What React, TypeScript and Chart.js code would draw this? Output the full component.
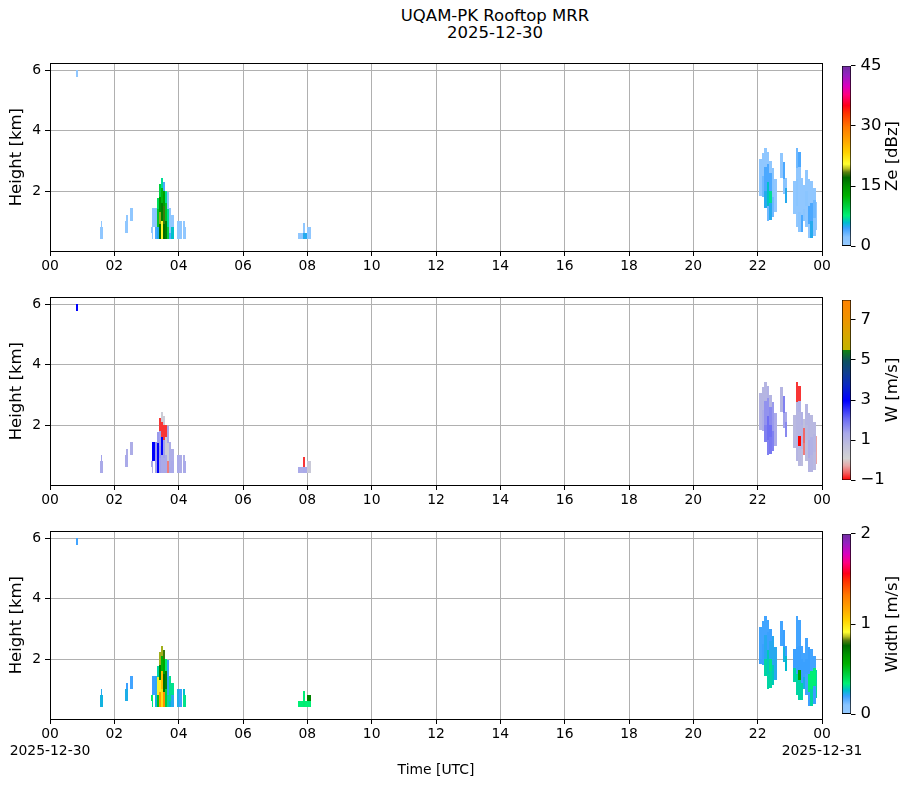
import { useEffect, useRef } from 'react';
import { Chart, registerables } from 'chart.js';

Chart.register(...registerables);

const FONT = '"DejaVu Sans", "Liberation Sans", sans-serif';

// ---------- axes ----------
const timeRange = [0, 24];
const hourTicks = [0, 2, 4, 6, 8, 10, 12, 14, 16, 18, 20, 22, 24];
const hourLabels = ['00', '02', '04', '06', '08', '10', '12', '14', '16', '18', '20', '22', '00'];
const startDateLabel = '2025-12-30';
const endDateLabel = '2025-12-31';
const heightRange = [0.01, 6.24];
const heightTicks = [2, 4, 6];

const zeRange = [0, 45];
const zeTicks = [0, 15, 30, 45];
const wRange = [-1, 8];
const wTicks = [-1, 1, 3, 5, 7];
const widthRange = [0, 2];
const widthTicks = [0, 1, 2];

// ---------- data ----------
// cell: [time start (h UTC), time end (h UTC), height bottom (km), height top (km), Ze (dBZ), W (m/s), Width (m/s)]
type Cell = [number, number, number, number, number, number, number];

const echoesEarly: Cell[] = [
  [0.80, 0.86, 5.80, 6.03, 1, 3.0, 0.19],
  [1.56, 1.65, 0.40, 0.82, 1, 1.3, 0.24],
  [1.58, 1.63, 0.82, 1.00, 1, 1.4, 0.22],
  [2.33, 2.43, 0.60, 1.00, 1, 1.3, 0.23],
  [2.37, 2.43, 1.00, 1.20, 1, 1.2, 0.20],
  [2.49, 2.58, 1.00, 1.44, 1, 1.2, 0.19],
];

const echoes0330: Cell[] = [
  [3.14, 3.21, 0.60, 0.82, 1, 1.3, 0.35],
  [3.17, 3.21, 0.40, 0.60, 1, 1.2, 0.32],
  [3.17, 3.25, 0.82, 1.44, 1.5, 3.0, 0.20],
  [3.25, 3.33, 0.41, 0.80, 4, 1.4, 0.24],
  [3.25, 3.33, 0.80, 1.45, 2, 1.5, 0.21],
  [3.33, 3.39, 0.41, 0.80, 5, 3.0, 0.50],
  [3.33, 3.39, 0.80, 1.40, 11, 3.0, 0.90],
  [3.33, 3.39, 1.40, 1.78, 9, 1.5, 0.30],
  [3.39, 3.45, 0.41, 0.90, 17, 1.4, 1.20],
  [3.39, 3.45, 0.90, 1.30, 19, 1.5, 0.95],
  [3.39, 3.45, 1.30, 1.80, 15, 1.4, 0.70],
  [3.39, 3.45, 1.80, 2.22, 10, -0.8, 0.85],
  [3.45, 3.51, 0.41, 1.00, 21, 1.3, 1.00],
  [3.45, 3.51, 1.00, 1.60, 16, 3.0, 1.10],
  [3.45, 3.51, 1.60, 2.10, 12, -0.8, 0.55],
  [3.45, 3.51, 2.10, 2.44, 7, 0.3, 0.85],
  [3.51, 3.57, 0.41, 0.90, 17, 1.3, 1.25],
  [3.51, 3.57, 0.90, 1.50, 18, 1.4, 0.75],
  [3.51, 3.57, 1.50, 2.00, 14, -0.8, 0.60],
  [3.51, 3.57, 2.00, 2.30, 4, 0.3, 0.80],
  [3.57, 3.63, 0.41, 1.00, 16, 1.3, 0.45],
  [3.57, 3.63, 1.00, 1.60, 11, 0.3, 0.70],
  [3.57, 3.63, 1.60, 2.00, 7, -0.8, 0.35],
  [3.63, 3.70, 0.41, 0.80, 10, -0.5, 0.30],
  [3.63, 3.70, 0.80, 1.40, 7, 0.3, 0.22],
  [3.63, 3.70, 1.40, 1.97, 2, 1.3, 0.20],
  [3.70, 3.76, 0.41, 0.60, 4, 1.3, 0.26],
  [3.70, 3.76, 0.60, 1.45, 1, 1.2, 0.32],
  [3.76, 3.84, 0.41, 0.82, 6, 1.3, 0.22],
  [3.76, 3.84, 0.82, 1.20, 1, 1.2, 0.32],
  [3.94, 4.02, 0.41, 1.00, 1, 1.3, 0.23],
  [4.02, 4.10, 0.41, 1.00, 1, 1.2, 0.20],
  [4.13, 4.23, 0.41, 0.80, 1, 1.3, 0.32],
  [4.15, 4.20, 0.80, 1.00, 1, 1.2, 0.26],
];

const echoes0800: Cell[] = [
  [7.70, 7.78, 0.40, 0.62, 1, 1.3, 0.34],
  [7.78, 7.86, 0.40, 0.62, 1, 1.2, 0.34],
  [7.88, 7.93, 0.40, 0.62, 5, 1.3, 0.35],
  [7.88, 7.93, 0.62, 0.95, 1, -0.8, 0.34],
  [7.93, 8.00, 0.40, 0.62, 5, 1.3, 0.34],
  [8.00, 8.10, 0.40, 0.62, 1, 0.4, 0.34],
  [8.00, 8.10, 0.62, 0.82, 1, 0.4, 0.70],
];

const echoes2200: Cell[] = [
  [22.05, 22.12, 2.00, 3.05, 1, 1.0, 0.19],
  [22.05, 22.12, 1.84, 2.00, 1, 1.0, 0.20],
  [22.12, 22.20, 1.80, 2.50, 3, 1.2, 0.20],
  [22.12, 22.20, 2.50, 3.26, 1, 1.0, 0.19],
  [22.20, 22.28, 1.45, 2.00, 5, 1.8, 0.30],
  [22.20, 22.28, 2.00, 2.80, 4, 1.6, 0.22],
  [22.20, 22.28, 2.80, 3.44, 1, 1.0, 0.19],
  [22.28, 22.36, 1.00, 1.50, 3, 1.8, 0.30],
  [22.28, 22.36, 1.50, 2.30, 6, 2.0, 0.28],
  [22.28, 22.36, 2.30, 2.90, 4, 1.6, 0.20],
  [22.28, 22.36, 2.90, 3.30, 1, 1.1, 0.19],
  [22.36, 22.44, 1.05, 1.60, 5, 1.9, 0.30],
  [22.36, 22.44, 1.60, 2.00, 7, 2.0, 0.32],
  [22.36, 22.44, 2.00, 2.60, 4, 1.7, 0.22],
  [22.36, 22.44, 2.60, 3.00, 1, 1.0, 0.20],
  [22.44, 22.52, 1.15, 1.80, 3, 1.8, 0.28],
  [22.44, 22.52, 1.80, 2.75, 2, 1.5, 0.22],
  [22.52, 22.60, 1.30, 2.40, 1, 1.3, 0.22],
];

const echoes2245: Cell[] = [
  [22.70, 22.78, 2.44, 3.25, 1, 1.0, 0.19],
  [22.78, 22.85, 1.90, 2.40, 2, 1.4, 0.24],
  [22.78, 22.85, 2.40, 2.95, 4, 1.8, 0.20],
  [22.85, 22.92, 1.62, 2.10, 5, 1.7, 0.26],
  [22.85, 22.92, 2.10, 2.44, 2, 1.3, 0.20],
];

const echoes2315: Cell[] = [
  [23.10, 23.18, 1.25, 1.70, 1, 0.9, 0.30],
  [23.10, 23.18, 1.70, 2.33, 1, 0.9, 0.20],
  [23.18, 23.26, 0.80, 1.50, 1, 1.0, 0.30],
  [23.18, 23.26, 1.50, 2.40, 2, 1.0, 0.20],
  [23.18, 23.26, 2.40, 2.76, 1, 1.0, 0.19],
  [23.18, 23.26, 2.76, 3.44, 3, -0.8, 0.19],
  [23.26, 23.34, 0.63, 1.30, 2, 0.9, 0.30],
  [23.26, 23.34, 1.30, 1.65, 1, -1.0, 0.60],
  [23.26, 23.34, 1.65, 2.44, 1, 1.0, 0.20],
  [23.26, 23.34, 2.44, 2.80, 1, 1.1, 0.19],
  [23.26, 23.34, 2.80, 3.30, 4, -0.8, 0.19],
  [23.34, 23.42, 0.63, 1.20, 4, 0.8, 0.30],
  [23.34, 23.42, 1.20, 2.00, 1, 1.0, 0.20],
  [23.34, 23.42, 2.00, 2.44, 1, 1.1, 0.19],
  [23.42, 23.48, 1.00, 1.40, 2, -0.5, 0.24],
  [23.42, 23.48, 1.40, 1.90, 1, -0.6, 0.20],
  [23.42, 23.48, 1.90, 2.20, 1, 0.7, 0.19],
];

const echoes2340: Cell[] = [
  [23.48, 23.56, 0.80, 1.50, 1, 0.8, 0.19],
  [23.48, 23.56, 1.50, 2.00, 2, 0.9, 0.20],
  [23.48, 23.56, 2.00, 2.70, 1, 1.0, 0.19],
  [23.56, 23.64, 0.43, 0.90, 1, 1.0, 0.20],
  [23.56, 23.64, 0.90, 1.50, 4, 1.2, 0.34],
  [23.56, 23.64, 1.50, 2.40, 1, 1.0, 0.20],
  [23.64, 23.72, 0.43, 1.00, 5, 1.0, 0.30],
  [23.64, 23.72, 1.00, 1.60, 4, 1.1, 0.34],
  [23.64, 23.72, 1.60, 2.33, 1, 0.9, 0.19],
  [23.72, 23.80, 0.50, 1.10, 2, 0.9, 0.20],
  [23.72, 23.80, 1.10, 1.70, 3, 1.0, 0.34],
  [23.72, 23.80, 1.70, 2.10, 1, 0.9, 0.19],
  [23.80, 23.86, 0.70, 1.65, 1, -0.3, 0.30],
];

const allEchoes: Cell[] = [
  ...echoesEarly, ...echoes0330, ...echoes0800, ...echoes2200, ...echoes2245, ...echoes2315, ...echoes2340,
];

// ---------- colormaps ----------
type Stop = [number, string];
const spectralStops: Stop[] = [
  [0.0, '#96caff'], [0.05, '#88c4ff'], [0.10, '#3aa0ff'], [0.13, '#00bcd0'],
  [0.17, '#00ef75'], [0.22, '#00d140'], [0.28, '#00b100'], [0.33, '#009400'],
  [0.38, '#006a00'], [0.41, '#5a8010'], [0.43, '#b8c020'], [0.455, '#ffff30'],
  [0.52, '#ffd200'], [0.58, '#ffa800'], [0.66, '#ff7800'], [0.74, '#ff3000'],
  [0.78, '#ff0018'], [0.84, '#ff0080'], [0.89, '#d800c0'], [0.95, '#9420c0'], [1.0, '#7030a0'],
];
const velocityStops: Stop[] = [
  [0.0, '#ff0000'], [0.04, '#f26060'], [0.08, '#e8a8a8'], [0.12, '#d3d3d3'],
  [0.19, '#c0c0dc'], [0.26, '#a8a8ea'], [0.34, '#6a6af4'], [0.44, '#0000ff'],
  [0.53, '#0a2ac0'], [0.60, '#10408c'], [0.66, '#0c5060'], [0.72, '#118012'],
  [0.722, '#c2b400'], [0.80, '#d6a800'], [0.90, '#f09200'], [1.0, '#ff8200'],
];

function hexToRgb(h: string) {
  const n = parseInt(h.slice(1), 16);
  return [(n >> 16) & 255, (n >> 8) & 255, n & 255];
}
function cmapColor(stops: Stop[], f: number) {
  const v = Math.max(0, Math.min(1, f));
  for (let i = 1; i < stops.length; i++) {
    if (v <= stops[i][0]) {
      const [f0, c0] = stops[i - 1];
      const [f1, c1] = stops[i];
      const t = f1 === f0 ? 0 : (v - f0) / (f1 - f0);
      const a = hexToRgb(c0);
      const b = hexToRgb(c1);
      return `rgb(${Math.round(a[0] + (b[0] - a[0]) * t)},${Math.round(a[1] + (b[1] - a[1]) * t)},${Math.round(a[2] + (b[2] - a[2]) * t)})`;
    }
  }
  return stops[stops.length - 1][1];
}

type PanelSpec = {
  top: number;
  valueIndex: number;
  range: number[];
  ticks: number[];
  label: string;
  stops: Stop[];
  bottom: boolean;
};

const PANEL_H = 190;
const PAD_TOP = 10;
const Y_AXIS_W = 50;
const PANEL_CANVAS_W = 867;
const PAD_RIGHT = 45;
const CB_LEFT = 842;
const CB_CANVAS_W = 72;
const CB_W = 9;

const panels: PanelSpec[] = [
  { top: 61, valueIndex: 4, range: zeRange, ticks: zeTicks, label: 'Ze [dBz]', stops: spectralStops, bottom: false },
  { top: 295, valueIndex: 5, range: wRange, ticks: wTicks, label: 'W [m/s]', stops: velocityStops, bottom: false },
  { top: 529, valueIndex: 6, range: widthRange, ticks: widthTicks, label: 'Width [m/s]', stops: spectralStops, bottom: true },
];

const xAxisH = (p: PanelSpec) => (p.bottom ? 60 : 30);

function makePanel(canvas: HTMLCanvasElement, p: PanelSpec) {
  const cellPlugin = {
    id: 'cells',
    beforeDatasetsDraw(chart: any) {
      const { ctx, chartArea, scales } = chart;
      const xs = scales.x;
      const ys = scales.y;
      ctx.save();
      ctx.beginPath();
      ctx.rect(chartArea.left, chartArea.top, chartArea.right - chartArea.left, chartArea.bottom - chartArea.top);
      ctx.clip();
      for (const c of allEchoes) {
        const x0 = Math.round(xs.getPixelForValue(c[0]));
        const x1 = Math.round(xs.getPixelForValue(c[1]));
        const yT = Math.round(ys.getPixelForValue(c[3]));
        const yB = Math.round(ys.getPixelForValue(c[2]));
        ctx.fillStyle = cmapColor(p.stops, (c[p.valueIndex] - p.range[0]) / (p.range[1] - p.range[0]));
        ctx.fillRect(x0, yT, Math.max(1, x1 - x0), Math.max(1, yB - yT));
      }
      ctx.restore();
    },
  };
  const framePlugin = {
    id: 'frame',
    afterDraw(chart: any) {
      const { ctx, chartArea } = chart;
      ctx.save();
      ctx.strokeStyle = '#000';
      ctx.lineWidth = 1;
      ctx.strokeRect(
        Math.round(chartArea.left) + 0.5,
        Math.round(chartArea.top) + 0.5,
        Math.round(chartArea.right - chartArea.left),
        Math.round(chartArea.bottom - chartArea.top)
      );
      ctx.restore();
    },
  };
  const gridCfg = { color: '#b0b0b0', lineWidth: 1, drawTicks: true, tickLength: 5, tickColor: '#000' };
  return new Chart(canvas, {
    type: 'scatter',
    data: { datasets: [] },
    options: {
      animation: false,
      responsive: false,
      maintainAspectRatio: false,
      events: [],
      layout: { padding: { top: PAD_TOP, right: PAD_RIGHT, bottom: 0, left: 0 } },
      plugins: { legend: { display: false }, tooltip: { enabled: false }, title: { display: false } },
      scales: {
        x: {
          type: 'linear',
          min: timeRange[0],
          max: timeRange[1],
          z: 1,
          afterBuildTicks: (s: any) => {
            s.ticks = hourTicks.map((value) => ({ value }));
          },
          afterFit: (s: any) => {
            s.height = xAxisH(p);
          },
          ticks: {
            autoSkip: false,
            maxRotation: 0,
            minRotation: 0,
            padding: 2,
            color: '#000',
            font: { family: FONT, size: 13.9 },
            callback: (_v: any, i: number) => {
              if (p.bottom && i === 0) return [hourLabels[i], startDateLabel];
              if (p.bottom && i === hourTicks.length - 1) return [hourLabels[i], endDateLabel];
              return hourLabels[i];
            },
          },
          grid: gridCfg,
          border: { display: false },
          title: p.bottom
            ? { display: true, text: 'Time [UTC]', color: '#000', font: { family: FONT, size: 13.9 }, padding: { top: 0, bottom: 0 } }
            : { display: false },
        },
        y: {
          type: 'linear',
          min: heightRange[0],
          max: heightRange[1],
          z: 1,
          afterBuildTicks: (s: any) => {
            s.ticks = heightTicks.map((value) => ({ value }));
          },
          afterFit: (s: any) => {
            s.width = Y_AXIS_W;
          },
          ticks: { padding: 4, color: '#000', font: { family: FONT, size: 13.9 }, callback: (v: any) => String(v) },
          grid: gridCfg,
          border: { display: false },
          title: { display: true, text: 'Height [km]', color: '#000', font: { family: FONT, size: 16.5 }, padding: { top: 7, bottom: 0 } },
        },
      },
    } as any,
    plugins: [cellPlugin, framePlugin],
  });
}

function makeColorbar(canvas: HTMLCanvasElement, p: PanelSpec) {
  const titlePlugin = {
    id: 'cbTitle',
    afterDraw(chart: any) {
      const { ctx, chartArea } = chart;
      ctx.save();
      ctx.fillStyle = '#000';
      ctx.font = `16.5px ${FONT}`;
      ctx.textAlign = 'center';
      ctx.textBaseline = 'middle';
      ctx.translate(50.5, (chartArea.top + chartArea.bottom) / 2);
      ctx.rotate(-Math.PI / 2);
      ctx.fillText(p.label, 0, 0);
      ctx.restore();
    },
  };
  return new Chart(canvas, {
    type: 'bar',
    data: {
      labels: [''],
      datasets: [
        {
          data: [[p.range[0], p.range[1]]],
          backgroundColor: (ctx: any) => {
            const ch = ctx.chart;
            const a = ch.chartArea;
            if (!a) return 'transparent';
            const g = ch.ctx.createLinearGradient(0, a.bottom, 0, a.top);
            for (const [f, c] of p.stops) g.addColorStop(f, c);
            return g;
          },
          borderColor: '#000',
          borderWidth: 1,
          borderSkipped: false,
          barPercentage: 1,
          categoryPercentage: 1,
        },
      ],
    },
    options: {
      animation: false,
      responsive: false,
      maintainAspectRatio: false,
      events: [],
      layout: { padding: { top: PAD_TOP, bottom: PAD_TOP, left: 0, right: 0 } },
      plugins: { legend: { display: false }, tooltip: { enabled: false }, title: { display: false } },
      scales: {
        x: { display: false },
        y: {
          type: 'linear',
          position: 'right',
          min: p.range[0],
          max: p.range[1],
          afterBuildTicks: (s: any) => {
            s.ticks = p.ticks.map((value) => ({ value }));
          },
          afterFit: (s: any) => {
            s.width = CB_CANVAS_W - CB_W;
          },
          ticks: {
            padding: 5,
            color: '#000',
            font: { family: FONT, size: 16.5 },
            callback: (v: any) => (v < 0 ? '\u2212' + Math.abs(v) : String(v)),
          },
          grid: { display: true, drawOnChartArea: false, drawTicks: true, tickLength: 4.5, tickColor: '#000' },
          border: { display: false },
        },
      },
    } as any,
    plugins: [titlePlugin],
  });
}

export default function App() {
  const panelRefs = useRef<(HTMLCanvasElement | null)[]>([]);
  const cbRefs = useRef<(HTMLCanvasElement | null)[]>([]);

  useEffect(() => {
    const charts: Chart[] = [];
    panels.forEach((p, i) => {
      const pc = panelRefs.current[i];
      const cc = cbRefs.current[i];
      if (pc) charts.push(makePanel(pc, p));
      if (cc) charts.push(makeColorbar(cc, p));
    });
    return () => charts.forEach((c) => c.destroy());
  }, []);

  return (
    <div
      style={{
        position: 'absolute',
        left: 0,
        top: 0,
        width: 914,
        height: 788,
        overflow: 'hidden',
        background: '#fff',
      }}
    >
      <div
        style={{
          position: 'absolute',
          left: 345,
          width: 300,
          top: 7,
          textAlign: 'center',
          fontFamily: FONT,
          fontSize: 16.5,
          lineHeight: '17px',
          color: '#000',
          whiteSpace: 'nowrap',
        }}
      >
        UQAM-PK Rooftop MRR
        <br />
        2025-12-30
      </div>
      {panels.map((p, i) => {
        const h = PAD_TOP + PANEL_H + xAxisH(p);
        return (
          <canvas
            key={'p' + i}
            ref={(el) => {
              panelRefs.current[i] = el;
            }}
            width={PANEL_CANVAS_W}
            height={h}
            style={{ position: 'absolute', left: 0, top: p.top - PAD_TOP, width: PANEL_CANVAS_W, height: h }}
          />
        );
      })}
      {panels.map((p, i) => {
        const h = PAD_TOP * 2 + PANEL_H;
        return (
          <canvas
            key={'c' + i}
            ref={(el) => {
              cbRefs.current[i] = el;
            }}
            width={CB_CANVAS_W}
            height={h}
            style={{ position: 'absolute', left: CB_LEFT, top: p.top - PAD_TOP, width: CB_CANVAS_W, height: h }}
          />
        );
      })}
    </div>
  );
}
